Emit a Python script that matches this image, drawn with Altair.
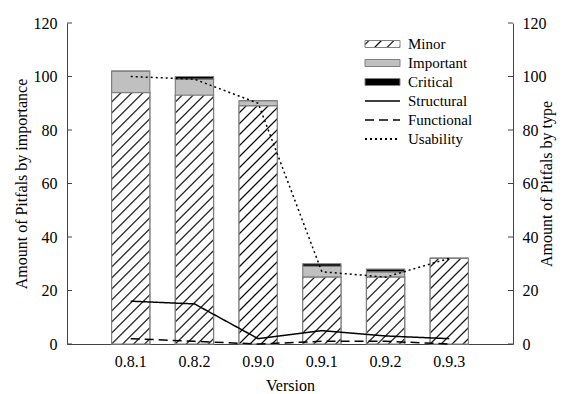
import altair as alt
import pandas as pd

# ---- data ----
versions = ["0.8.1", "0.8.2", "0.9.0", "0.9.1", "0.9.2", "0.9.3"]
minor = [94, 93, 89, 25, 25, 32]
important = [8, 6, 2, 4, 2, 0]
critical = [0, 1, 0, 1, 1, 0]
structural = [16, 15, 2, 5, 3, 2]
functional = [2, 1, 0, 1, 1, 0]
usability = [100, 99, 90, 27, 25, 32]
y_ticks = [0, 20, 40, 60, 80, 100, 120]
bar_types = ["Minor", "Important", "Critical"]
line_types = ["Structural", "Functional", "Usability"]

# ---- layout / style ----
W, H = 446, 321
FONT = "Liberation Serif"
BAR_STROKE = "#808080"
AXIS_COLOR = "#444444"
DASHES = [[1, 0], [9, 5], [2, 3]]
WIDTHS = [1.5, 1.5, 2.0]
HATCH_P = 11.0       # hatch period along x+y (px)  -> ~7.8px line spacing
HATCH_HW = 1.15      # half width of the soft hatch line (perpendicular px)
TILE_PX = 4 * HATCH_P
band_w = W / 7 * 0.6
ppu = H / 120

rows = []
for v, a, b, c in zip(versions, minor, important, critical):
    for k, (t, val) in enumerate(zip(bar_types, (a, b, c))):
        rows.append(dict(version=v, type=t, value=val, order=k))
bars_df = pd.DataFrame(rows)

lrows = []
for v, s, f, u in zip(versions, structural, functional, usability):
    for t, val in zip(line_types, (s, f, u)):
        lrows.append(dict(version=v, series=t, value=val))
lines_df = pd.DataFrame(lrows)
ticks_df = pd.DataFrame({"tick": y_ticks})


def hatch_grad(w, h, phase=0.0, P=HATCH_P, hw=HATCH_HW):
    """'/' hatch as a linear gradient in the rect's bounding box (45 deg in pixels).
    Each line has a triangular (soft) profile so it samples evenly on the pixel grid."""
    S = w + h
    t = hw * 2 ** 0.5
    stops = [{"offset": 0, "color": "white"}]
    s = (phase % P) - P
    while s - t < S:
        a, m, b = (s - t) / S, s / S, (s + t) / S
        if b > 0 and a < 1:
            if a >= 0:
                stops.append({"offset": a, "color": "white"})
            if 0 <= m <= 1:
                stops.append({"offset": m, "color": "#000"})
            if b <= 1:
                stops.append({"offset": b, "color": "white"})
        s += P
    stops.append({"offset": 1, "color": "white"})
    q = S / (w * w + h * h)
    return {"gradient": "linear", "x1": 0, "y1": 0, "x2": w * q, "y2": h * q, "stops": stops}


# hatch tiles (derived from the Minor values) so the gradients stay short and crisp
tiles = []
for v, m in zip(versions, minor):
    hm = m * ppu
    k = 0
    while k * TILE_PX < hm - 0.01:
        bot = k * TILE_PX
        top = min((k + 1) * TILE_PX, hm)
        tiles.append({"version": v, "y0": bot / ppu, "y1": top / ppu,
                      "grad": hatch_grad(band_w, top - bot, phase=top)})
        k += 1

xs = alt.Scale(domain=versions, paddingInner=0.4, paddingOuter=0.7)
ys = alt.Scale(domain=[0, 120], nice=False)
x_axis = alt.Axis(title="Version", ticks=False, labelAngle=0, labelPadding=9,
                  titlePadding=8, domainColor=AXIS_COLOR)
X = alt.X("version:N", scale=xs, axis=x_axis, sort=versions)

hatch_layer = alt.Chart(alt.Data(values=tiles)).mark_bar().encode(
    x=X,
    y=alt.Y("y0:Q", scale=ys, axis=None),
    y2="y1:Q",
    fill=alt.Fill("grad:N", scale=None),
)

stack = alt.Chart(bars_df).mark_bar(stroke=BAR_STROKE, strokeWidth=1.2).encode(
    x=X,
    y=alt.Y("value:Q", stack="zero", scale=ys,
            axis=alt.Axis(title="Amount of Pitfals by importance", values=y_ticks,
                          ticks=False, grid=False, labelPadding=10, titlePadding=4,
                          domainColor=AXIS_COLOR)),
    color=alt.Color("type:N", scale=alt.Scale(domain=bar_types,
                                              range=["transparent", "#c0c0c0", "black"]),
                    legend=None),
    order=alt.Order("order:Q"),
)

outline = alt.Chart(bars_df).transform_filter(alt.datum.type == "Minor").mark_bar(
    fillOpacity=0, stroke=BAR_STROKE, strokeWidth=1.2).encode(
    x=X, y=alt.Y("value:Q", scale=ys, axis=None))

lines = alt.Chart(lines_df).mark_line(color="black").encode(
    x=X,
    y=alt.Y("value:Q", scale=ys,
            axis=alt.Axis(title="Amount of Pitfals by type", orient="right",
                          values=y_ticks, ticks=False, grid=False, labelPadding=9,
                          titlePadding=8, titleAngle=270, domainColor=AXIS_COLOR)),
    strokeDash=alt.StrokeDash("series:N", scale=alt.Scale(
        domain=line_types, range=DASHES), legend=None),
    strokeWidth=alt.StrokeWidth("series:N", scale=alt.Scale(
        domain=line_types, range=WIDTHS), legend=None),
)

layers = [stack, hatch_layer, outline, lines]

# inward tick marks on both vertical axes
layers.append(alt.Chart(ticks_df).mark_rule(color=AXIS_COLOR).encode(
    y=alt.Y("tick:Q", scale=ys, axis=None), x=alt.value(0), x2=alt.value(5)))
layers.append(alt.Chart(ticks_df).mark_rule(color=AXIS_COLOR).encode(
    y=alt.Y("tick:Q", scale=ys, axis=None), x=alt.value(W - 5), x2=alt.value(W)))

# manual legend
one = pd.DataFrame({"a": [0]})
LX0, LX1, LT = 298, 333, 341
row_y = [21, 40, 59, 78, 97, 116]
sym_fills = [alt.LinearGradient(**hatch_grad(LX1 - LX0, 7, phase=4, P=12.5)), "#c0c0c0", "black"]
for yy, f in zip(row_y[:3], sym_fills):
    layers.append(alt.Chart(one).mark_rect(fill=f, stroke=BAR_STROKE, strokeWidth=1).encode(
        x=alt.value(LX0), x2=alt.value(LX1), y=alt.value(yy - 3.5), y2=alt.value(yy + 3.5)))
for yy, dash, sw in zip(row_y[3:], DASHES, WIDTHS):
    layers.append(alt.Chart(one).mark_rule(color="black", strokeWidth=sw, strokeDash=dash).encode(
        x=alt.value(LX0), x2=alt.value(LX1), y=alt.value(yy)))
for yy, lab in zip(row_y, bar_types + line_types):
    layers.append(alt.Chart(one).mark_text(align="left", baseline="middle", fontSize=15,
                                           font=FONT, color="black").encode(
        x=alt.value(LT), y=alt.value(yy), text=alt.value(lab)))

chart = alt.layer(*layers).resolve_scale(y="shared").resolve_axis(y="independent").properties(
    width=W, height=H,
    autosize=alt.AutoSizeParams(type="none"),
    padding={"left": 59, "top": 15, "right": 50, "bottom": 50},
).configure_view(stroke=None).configure_axis(
    labelFont=FONT, titleFont=FONT, labelFontSize=16, titleFontSize=16,
    titleFontWeight="normal", labelColor="black", titleColor="black",
)

chart.save("out.html", embed_options={"renderer": "svg", "actions": False})
